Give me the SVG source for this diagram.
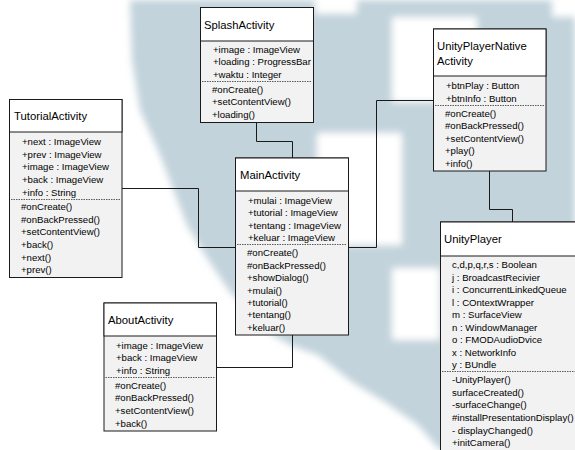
<svg xmlns="http://www.w3.org/2000/svg" width="575" height="450" viewBox="0 0 575 450">
  <defs>
    <filter id="soft" x="-10%" y="-10%" width="120%" height="120%">
      <feGaussianBlur stdDeviation="3.5"/>
    </filter>
  </defs>
  <style>
    .box { fill: #f2f2f2; stroke: #1a1a1a; stroke-width: 1; }
    .head { fill: #ffffff; stroke: #1a1a1a; stroke-width: 1; }
    .sep { stroke: #333; stroke-width: 0.8; stroke-dasharray: 1.5 1; fill: none; }
    .title { font-family: "Liberation Sans", Arial, sans-serif; font-size: 11.3px; fill: #000; }
    .item { font-family: "Liberation Sans", Arial, sans-serif; font-size: 9.6px; fill: #000; }
    .wire { fill: none; stroke: #1a1a1a; stroke-width: 1; }
  </style>

  <!-- page background with soft watermark shape -->
  <rect x="0" y="0" width="575" height="450" fill="#ffffff"/>
  <g filter="url(#soft)">
    <path fill="#c2d3db" d="M130,0 H315 V14 H357 V0 H552 V17 H575 V450 H440 L418,425 L385,402 L352,382 L318,355 L290,345 L273,335 L230,292 L207,258 L187,225 L160,155 L140,110 L132,60 Z"/>
    <rect x="392" y="17" width="85" height="85" fill="#ffffff"/>
    <rect x="317" y="133" width="85" height="112" fill="#ffffff"/>
    <rect x="392" y="268" width="48" height="72" fill="#ffffff"/>
  </g>

  <!-- associations -->
  <g id="connectors">
    <path class="wire" d="M256.5,122.5 V141.5 H292.5 V158"/>
    <path class="wire" d="M122,188.5 H198.5 V247.5 H235.5"/>
    <path class="wire" d="M348.5,247.5 H376.5 V100.5 H433.5"/>
    <path class="wire" d="M489.5,171 V209.5 H512.5 V222"/>
    <path class="wire" d="M292.5,335 V367.5 H216.5"/>
  </g>

  <!-- SplashActivity -->
  <g id="SplashActivity">
    <rect class="box" x="200.5" y="7.5" width="113" height="115"/>
    <rect class="head" x="200.5" y="7.5" width="113" height="33.5"/>
    <text class="title" x="204" y="28.5">SplashActivity</text>
    <text class="item" x="213" y="52.5">+image : ImageView</text>
    <text class="item" x="213" y="65">+loading : ProgressBar</text>
    <text class="item" x="213" y="77.5">+waktu : Integer</text>
    <line class="sep" x1="202" y1="81.5" x2="312" y2="81.5"/>
    <text class="item" x="212" y="92.5">#onCreate()</text>
    <text class="item" x="212" y="105">+setContentView()</text>
    <text class="item" x="212" y="117.5">+loading()</text>
  </g>

  <!-- UnityPlayerNativeActivity -->
  <g id="UnityPlayerNativeActivity">
    <rect class="box" x="433.5" y="29" width="112.5" height="142"/>
    <rect class="head" x="433.5" y="29" width="112.5" height="47"/>
    <text class="title" x="437" y="49.5">UnityPlayerNative</text>
    <text class="title" x="437" y="64.5">Activity</text>
    <text class="item" x="446" y="88.5">+btnPlay : Button</text>
    <text class="item" x="446" y="101.5">+btnInfo : Button</text>
    <line class="sep" x1="435" y1="105.5" x2="545" y2="105.5"/>
    <text class="item" x="445" y="116.5">#onCreate()</text>
    <text class="item" x="445" y="129">#onBackPressed()</text>
    <text class="item" x="445" y="141.5">+setContentView()</text>
    <text class="item" x="445" y="154">+play()</text>
    <text class="item" x="445" y="166.5">+info()</text>
  </g>

  <!-- TutorialActivity -->
  <g id="TutorialActivity">
    <rect class="box" x="9.5" y="99.5" width="112.5" height="178"/>
    <rect class="head" x="9.5" y="99.5" width="112.5" height="32.5"/>
    <text class="title" x="14" y="120">TutorialActivity</text>
    <text class="item" x="22" y="144.5">+next : ImageView</text>
    <text class="item" x="22" y="157.5">+prev : ImageView</text>
    <text class="item" x="22" y="169.5">+image : ImageView</text>
    <text class="item" x="22" y="182.5">+back : ImageView</text>
    <text class="item" x="22" y="195.5">+info : String</text>
    <line class="sep" x1="11" y1="199.5" x2="121" y2="199.5"/>
    <text class="item" x="21" y="209.5">#onCreate()</text>
    <text class="item" x="21" y="222.5">#onBackPressed()</text>
    <text class="item" x="21" y="234.5">+setContentView()</text>
    <text class="item" x="21" y="247.5">+back()</text>
    <text class="item" x="21" y="260.5">+next()</text>
    <text class="item" x="21" y="272.5">+prev()</text>
  </g>

  <!-- MainActivity -->
  <g id="MainActivity">
    <rect class="box" x="235.5" y="158" width="113" height="177"/>
    <rect class="head" x="235.5" y="158" width="113" height="33"/>
    <text class="title" x="240" y="178.5">MainActivity</text>
    <text class="item" x="248" y="203.5">+mulai : ImageView</text>
    <text class="item" x="248" y="215.5">+tutorial : ImageView</text>
    <text class="item" x="248" y="228.5">+tentang : ImageView</text>
    <text class="item" x="248" y="240.5">+keluar : ImageView</text>
    <line class="sep" x1="237" y1="244.5" x2="347" y2="244.5"/>
    <text class="item" x="247" y="255.5">#onCreate()</text>
    <text class="item" x="247" y="268.5">#onBackPressed()</text>
    <text class="item" x="247" y="280.5">+showDialog()</text>
    <text class="item" x="247" y="293.5">+mulai()</text>
    <text class="item" x="247" y="305.5">+tutorial()</text>
    <text class="item" x="247" y="317.5">+tentang()</text>
    <text class="item" x="247" y="330.5">+keluar()</text>
  </g>

  <!-- UnityPlayer -->
  <g id="UnityPlayer">
    <rect class="box" x="440.5" y="222" width="140" height="235"/>
    <rect class="head" x="440.5" y="222" width="140" height="34"/>
    <text class="title" x="444" y="243">UnityPlayer</text>
    <text class="item" x="452" y="267.5">c,d,p,q,r,s : Boolean</text>
    <text class="item" x="452" y="280.5">j : BroadcastRecivier</text>
    <text class="item" x="452" y="292.5">i : ConcurrentLinkedQueue</text>
    <text class="item" x="452" y="305.5">l : COntextWrapper</text>
    <text class="item" x="452" y="317.5">m : SurfaceView</text>
    <text class="item" x="452" y="330.5">n : WindowManager</text>
    <text class="item" x="452" y="342.5">o : FMODAudioDvice</text>
    <text class="item" x="452" y="355.5">x : NetworkInfo</text>
    <text class="item" x="452" y="367.5">y : BUndle</text>
    <line class="sep" x1="442" y1="371.5" x2="575" y2="371.5"/>
    <text class="item" x="452" y="382.5">-UnityPlayer()</text>
    <text class="item" x="452" y="395.5">surfaceCreated()</text>
    <text class="item" x="452" y="407.5">-surfaceChange()</text>
    <text class="item" x="452" y="420.5">#installPresentationDisplay()</text>
    <text class="item" x="452" y="433.5">- displayChanged()</text>
    <text class="item" x="452" y="445.5">+initCamera()</text>
  </g>

  <!-- AboutActivity -->
  <g id="AboutActivity">
    <rect class="box" x="104" y="303" width="112.5" height="128"/>
    <rect class="head" x="104" y="303" width="112.5" height="33"/>
    <text class="title" x="108" y="323.5">AboutActivity</text>
    <text class="item" x="116" y="348.5">+image : ImageView</text>
    <text class="item" x="116" y="360.5">+back : ImageView</text>
    <text class="item" x="116" y="373.5">+info : String</text>
    <line class="sep" x1="105.5" y1="377.5" x2="215.5" y2="377.5"/>
    <text class="item" x="115" y="388.5">#onCreate()</text>
    <text class="item" x="115" y="400.5">#onBackPressed()</text>
    <text class="item" x="115" y="413.5">+setContentView()</text>
    <text class="item" x="115" y="426.5">+back()</text>
  </g>
</svg>
